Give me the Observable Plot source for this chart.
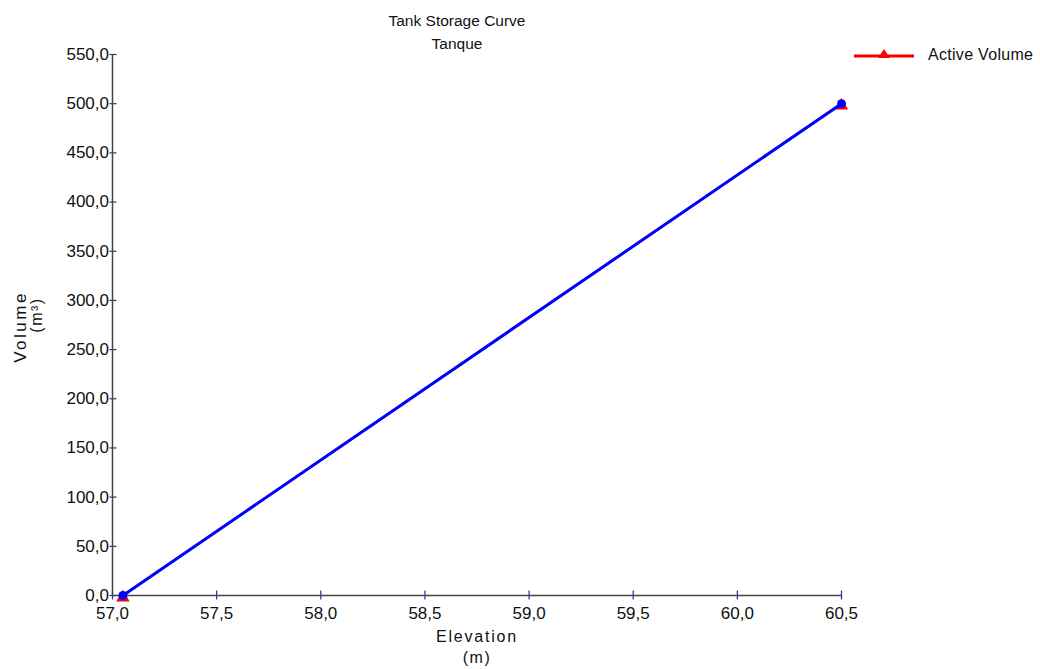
<!DOCTYPE html>
<html>
<head>
<meta charset="utf-8">
<script src="https://cdn.jsdelivr.net/npm/d3@7"></script>
<script src="https://cdn.jsdelivr.net/npm/@observablehq/plot@0.6"></script>
<style>
  html, body { margin: 0; padding: 0; background: #fff; }
  #wrap { position: relative; width: 1040px; height: 669px; font-family: "Liberation Sans", Arial, sans-serif; }
  #legend { position: absolute; left: 852px; top: 45px; display: flex; align-items: center; font-size: 16px; color: #111; letter-spacing: 0.3px; }
</style>
</head>
<body>
<div id="wrap"></div>
<script>
const title = "Tank Storage Curve";
const subtitle = "Tanque";
const xLabel = ["Elevation", "(m)"];
const yLabel = ["Volume", "(m³)"];
const seriesName = "Active Volume";
const elevation = [57.05, 60.5];
const volume = [0, 500];
const xTicks = [57.0, 57.5, 58.0, 58.5, 59.0, 59.5, 60.0, 60.5];
const yTicks = [0, 50, 100, 150, 200, 250, 300, 350, 400, 450, 500, 550];

const data = elevation.map((e, i) => ({x: e, y: volume[i]}));
const fmt = d => d.toFixed(1).replace(".", ",");
const tickColor = "#2b2ba8";
const axisColor = "#444";
const tickFont = 17;

const chart = Plot.plot({
  width: 1040,
  height: 669,
  marginLeft: 112,
  marginRight: 199,
  marginTop: 54,
  marginBottom: 74,
  style: {fontFamily: "'Liberation Sans', Arial, sans-serif", fontSize: "16px", background: "#fff", color: "#111"},
  x: {domain: [57, 60.5], label: null},
  y: {domain: [0, 550], label: null},
  marks: [
    Plot.axisX({ticks: xTicks, tickSize: -4.5, tickFormat: () => "", label: null, stroke: tickColor, strokeWidth: 1.2}),
    Plot.axisX({ticks: xTicks, tickSize: 4.5, tickPadding: 7, tickFormat: fmt, label: null, fontSize: tickFont, stroke: tickColor, strokeWidth: 1.2, fill: "#111"}),
    Plot.axisY({ticks: yTicks, tickSize: -4.5, tickFormat: () => "", label: null, stroke: tickColor, strokeWidth: 1.2}),
    Plot.axisY({ticks: yTicks, tickSize: 2.5, tickPadding: 1, tickFormat: fmt, label: null, fontSize: tickFont, stroke: tickColor, strokeWidth: 1.2, fill: "#111"}),
    Plot.ruleX([57], {stroke: axisColor, strokeWidth: 1.5}),
    Plot.ruleY([0], {stroke: axisColor, strokeWidth: 1.5}),
    Plot.line(data, {x: "x", y: "y", stroke: "red", strokeWidth: 2}),
    Plot.dot(data, {x: "x", y: "y", symbol: "triangle", r: 5, fill: "red", dy: 2}),
    Plot.line(data, {x: "x", y: "y", stroke: "#0000ff", strokeWidth: 3}),
    Plot.dot(data, {x: "x", y: "y", r: 4.5, fill: "#0000ff"}),
    Plot.text([title], {frameAnchor: "top", dx: -20, dy: -40, fontSize: 15.5, fill: "#111"}),
    Plot.text([subtitle], {frameAnchor: "top", dx: -20, dy: -17, fontSize: 15.5, fill: "#111"}),
    Plot.text([xLabel[0]], {frameAnchor: "bottom", dy: 46, fontSize: 16, fill: "#111"}),
    Plot.text([xLabel[1]], {frameAnchor: "bottom", dy: 67, fontSize: 16, fill: "#111"}),
    Plot.text([yLabel[0]], {frameAnchor: "left", dx: -92, dy: 2, rotate: -90, textAnchor: "middle", fontSize: 17, fill: "#111"}),
    Plot.text([yLabel[1]], {frameAnchor: "left", dx: -76, dy: -10, rotate: -90, textAnchor: "middle", fontSize: 16, fill: "#111"})
  ]
});
const spacing = new Map([[xLabel[0], "1.8px"], [xLabel[1], "1.5px"], [yLabel[0], "2.5px"], [yLabel[1], "1.5px"]]);
d3.select(chart).selectAll("text").each(function() {
  const s = spacing.get(this.textContent);
  if (s) d3.select(this).style("letter-spacing", s);
});
document.getElementById("wrap").appendChild(chart);

const legend = document.createElement("div");
legend.id = "legend";
legend.innerHTML = `<svg width="64" height="20" style="margin-right:12px"><line x1="2" x2="62" y1="11" y2="11" stroke="red" stroke-width="3"/><path d="M32,4 L38,13 L26,13 Z" fill="red"/></svg><span>${seriesName}</span>`;
document.getElementById("wrap").appendChild(legend);
</script>
</body>
</html>
